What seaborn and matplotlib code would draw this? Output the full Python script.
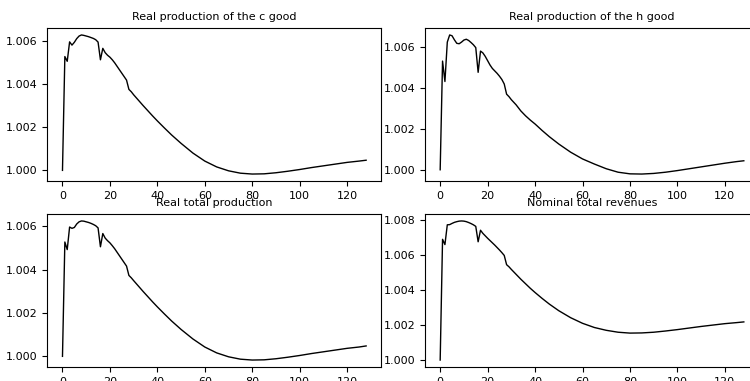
import matplotlib
matplotlib.use("Agg")
import matplotlib.pyplot as plt
import seaborn as sns
import pandas as pd

# ---- data ----
x_pts = [0, 1, 2, 3, 4, 5, 6, 7, 8, 9, 10, 11, 12, 13, 14, 15, 16, 17, 18, 19,
         20, 21, 22, 23, 24, 25, 26, 27, 28, 29, 30, 32, 34, 36, 38, 40, 43, 46,
         50, 55, 60, 65, 70, 75, 80, 85, 90, 95, 100, 105, 110, 115, 120, 125, 128]

real_c = [1.0000, 1.00527, 1.00505, 1.00595, 1.00580, 1.00593, 1.00610, 1.00622,
          1.00627, 1.00625, 1.00622, 1.00619, 1.00615, 1.00611, 1.00605, 1.00594,
          1.00512, 1.00565, 1.00545, 1.00533, 1.00524, 1.00512, 1.00498, 1.00482,
          1.00466, 1.00450, 1.00434, 1.00418, 1.00375, 1.00364, 1.00350, 1.00325,
          1.00300, 1.00276, 1.00252, 1.00229, 1.00196, 1.00164, 1.00125, 1.00080,
          1.00043, 1.00016, 0.99998, 0.99987, 0.99983, 0.99984, 0.99989, 0.99996,
          1.00004, 1.00013, 1.00021, 1.00029, 1.00037, 1.00043, 1.00047]

real_h = [1.0000, 1.00532, 1.00432, 1.00625, 1.00660, 1.00656, 1.00636, 1.00619,
          1.00617, 1.00625, 1.00635, 1.00639, 1.00633, 1.00623, 1.00612, 1.00598,
          1.00477, 1.00581, 1.00572, 1.00555, 1.00534, 1.00513, 1.00496, 1.00484,
          1.00472, 1.00458, 1.00442, 1.00420, 1.00370, 1.00358, 1.00343, 1.00318,
          1.00288, 1.00264, 1.00243, 1.00224, 1.00192, 1.00162, 1.00126, 1.00086,
          1.00053, 1.00028, 1.00005, 0.99988, 0.99980, 0.99979, 0.99982, 0.99988,
          0.99996, 1.00005, 1.00014, 1.00023, 1.00032, 1.00040, 1.00044]

real_total = [1.0000, 1.00527, 1.00492, 1.00596, 1.00590, 1.00594, 1.00610, 1.00620,
              1.00624, 1.00623, 1.00620, 1.00617, 1.00613, 1.00608, 1.00602, 1.00592,
              1.00505, 1.00566, 1.00545, 1.00533, 1.00523, 1.00510, 1.00496, 1.00480,
              1.00464, 1.00448, 1.00432, 1.00416, 1.00373, 1.00362, 1.00349, 1.00324,
              1.00299, 1.00275, 1.00251, 1.00228, 1.00195, 1.00163, 1.00124, 1.00080,
              1.00043, 1.00016, 0.99998, 0.99987, 0.99983, 0.99984, 0.99989, 0.99996,
              1.00004, 1.00013, 1.00021, 1.00029, 1.00037, 1.00043, 1.00048]

nominal_rev = [1.0000, 1.00690, 1.00660, 1.00773, 1.00774, 1.00781, 1.00787, 1.00791,
               1.00794, 1.00795, 1.00794, 1.00791, 1.00786, 1.00780, 1.00773, 1.00764,
               1.00676, 1.00742, 1.00724, 1.00710, 1.00696, 1.00683, 1.00670, 1.00657,
               1.00643, 1.00629, 1.00614, 1.00598, 1.00545, 1.00533, 1.00518, 1.00490,
               1.00462, 1.00436, 1.00410, 1.00386, 1.00352, 1.00320, 1.00282, 1.00242,
               1.00210, 1.00186, 1.00170, 1.00159, 1.00154, 1.00155, 1.00159, 1.00166,
               1.00174, 1.00183, 1.00192, 1.00200, 1.00208, 1.00214, 1.00218]

titles = ["Real production of the c good", "Real production of the h good",
          "Real total production", "Nominal total revenues"]
series = [real_c, real_h, real_total, nominal_rev]

# ---- figure ----
plt.rcParams['font.family'] = ['DejaVu Sans']
fig = plt.figure(figsize=(7.5, 3.81), dpi=100)

W, H = 750.0, 381.0
ax_w = 334.0 / W
ax_h = 153.0 / H
lefts = [47.3 / W, 425.0 / W]
bottoms = [1 - 181.0 / H, 1 - 367.0 / H]

positions = [(lefts[0], bottoms[0]), (lefts[1], bottoms[0]),
             (lefts[0], bottoms[1]), (lefts[1], bottoms[1])]

for (l, b), title, ys in zip(positions, titles, series):
    ax = fig.add_axes([l, b, ax_w, ax_h])
    df = pd.DataFrame({"t": x_pts, "v": ys})
    sns.lineplot(data=df, x="t", y="v", ax=ax, color="black", linewidth=1.0)
    ax.set_title(title, fontsize=8)
    ax.set_xlabel("")
    ax.set_ylabel("")
    ax.tick_params(labelsize=8)
    ax.ticklabel_format(axis="y", useOffset=False)
    ax.margins(x=0.05, y=0.05)

fig.savefig("out.png", dpi=100)
